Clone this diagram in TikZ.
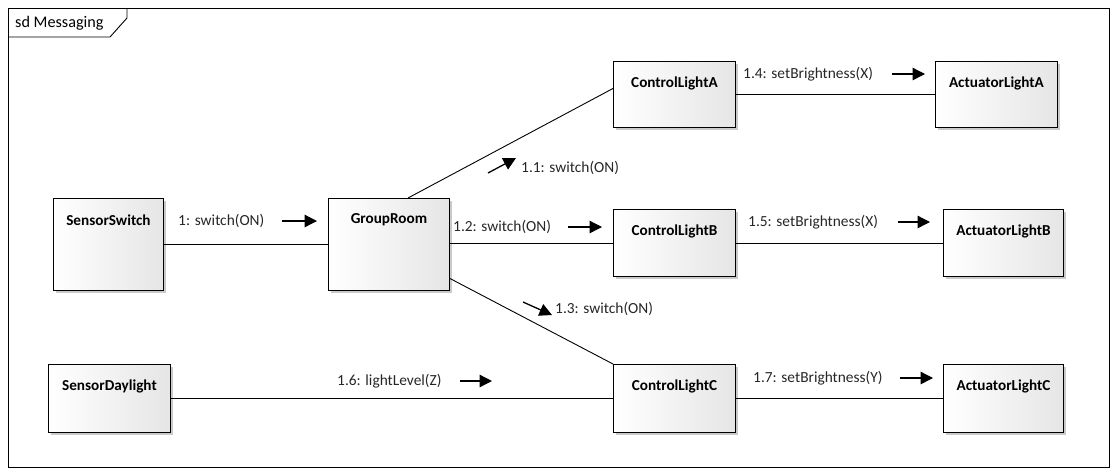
\documentclass[tikz,border=0pt]{standalone}
\usepackage{fontspec}
\setmainfont{Carlito}
\usetikzlibrary{arrows.meta,shadows,calc}
\tikzset{
  obj/.style={draw, line width=0.9pt, anchor=north west, inner sep=0pt,
    left color=white, right color=black!10,
    drop shadow={shadow xshift=3pt, shadow yshift=-3pt, fill=black!35, opacity=0.6}},
  otext/.style={anchor=center, yshift=-22pt, font=\fontsize{15.2}{17}\selectfont\bfseries},
  conn/.style={line width=0.9pt},
  msg/.style={font=\fontsize{15.4}{17}\selectfont, inner sep=0pt, anchor=west, text=black!85},
  marrow/.style={line width=1.3pt, -{Triangle[length=12.5pt,width=12.5pt]}},
}
\begin{document}
\begin{tikzpicture}[x=1pt,y=-1pt]
\useasboundingbox (0,0) rectangle (1118,475);
% frame
\draw[line width=0.9pt] (8,8) rectangle (1109,467);
\draw[line width=0.9pt] (8,37) -- (110,37) -- (127,18) -- (127,8);
\node[font=\fontsize{16.2}{18}\selectfont, anchor=west, inner sep=0pt] (title) at (15,23) {sd Messaging};

% objects
\node[obj, minimum width=110, minimum height=92, label={[otext]north:SensorSwitch}] (ss) at (53,198) {};
\node[obj, minimum width=121, minimum height=92, label={[otext]north:GroupRoom}] (gr) at (328,198) {};
\node[obj, minimum width=122, minimum height=66, label={[otext]north:ControlLightA}] (clA) at (613,61) {};
\node[obj, minimum width=122, minimum height=66, label={[otext]north:ActuatorLightA}] (aA) at (935,61) {};
\node[obj, minimum width=122, minimum height=67, label={[otext]north:ControlLightB}] (clB) at (613,209) {};
\node[obj, minimum width=120, minimum height=67, label={[otext]north:ActuatorLightB}] (aB) at (943,209) {};
\node[obj, minimum width=122, minimum height=68, label={[otext]north:ControlLightC}] (clC) at (613,364) {};
\node[obj, minimum width=120, minimum height=68, label={[otext]north:ActuatorLightC}] (aC) at (943,364) {};
\node[obj, minimum width=122, minimum height=68, label={[otext]north:SensorDaylight}] (sd) at (48,364) {};

% connectors
\draw[conn] (ss.east) -- (gr.west);
\draw[conn] ([xshift=80pt]gr.north west) -- ([yshift=6pt]clA.west);
\draw[conn] (gr.east |- clB.west) -- (clB.west);
\draw[conn] ([yshift=-34pt]gr.east) -- (clC.north west);
\draw[conn] (sd.east) -- (clC.west);
\draw[conn] (clA.east) -- (aA.west);
\draw[conn] (clB.east) -- (aB.west);
\draw[conn] (clC.east) -- (aC.west);

% messages
\node[msg] (m1) at (178,221) {1: switch(ON)};
\coordinate (a1s) at (282,221); \coordinate (a1e) at (317,221);
\draw[marrow] (a1s) -- (a1e);

\node[msg] (m11) at (521,168) {1.1: switch(ON)};
\coordinate (a11s) at (488,173); \coordinate (a11e) at (516,158);
\draw[marrow] (a11s) -- (a11e);

\node[msg] (m12) at (453,227) {1.2: switch(ON)};
\coordinate (a12s) at (568,227); \coordinate (a12e) at (602,227);
\draw[marrow] (a12s) -- (a12e);

\node[msg] (m13) at (555,309) {1.3: switch(ON)};
\coordinate (a13s) at (523,302); \coordinate (a13e) at (552,315);
\draw[marrow] (a13s) -- (a13e);

\node[msg] (m14) at (743,74) {1.4: setBrightness(X)};
\coordinate (a14s) at (892,74); \coordinate (a14e) at (925,74);
\draw[marrow] (a14s) -- (a14e);

\node[msg] (m15) at (748,222) {1.5: setBrightness(X)};
\coordinate (a15s) at (898,222); \coordinate (a15e) at (930,222);
\draw[marrow] (a15s) -- (a15e);

\node[msg] (m16) at (337,381) {1.6: lightLevel(Z)};
\coordinate (a16s) at (460,381); \coordinate (a16e) at (492,381);
\draw[marrow] (a16s) -- (a16e);

\node[msg] (m17) at (753,378) {1.7: setBrightness(Y)};
\coordinate (a17s) at (900,378); \coordinate (a17e) at (933,378);
\draw[marrow] (a17s) -- (a17e);
\end{tikzpicture}
\end{document}
